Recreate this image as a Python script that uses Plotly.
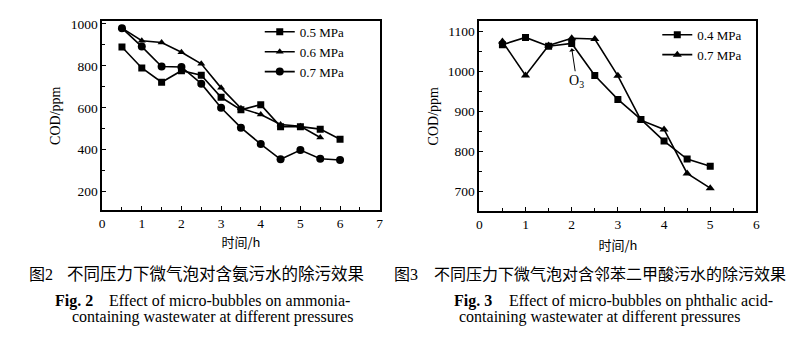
import plotly.graph_objects as go

# ---- Fig. 2: ammonia-containing wastewater ----
t_fig2 = [0.5, 1, 1.5, 2, 2.5, 3, 3.5, 4, 4.5, 5, 5.5, 6]
cod_05mpa = [890, 790, 722, 777, 755, 650, 590, 615, 510, 510, 498, 450]
t_fig2_06 = [0.5, 1, 1.5, 2, 2.5, 3, 3.5, 4, 4.5, 5, 5.5]
cod_06mpa = [980, 920, 912, 865, 810, 695, 598, 568, 520, 512, 458]
cod_07mpa = [980, 892, 797, 795, 715, 600, 505, 427, 354, 398, 357, 351]

# ---- Fig. 3: phthalic acid-containing wastewater ----
t_fig3 = [0.5, 1, 1.5, 2, 2.5, 3, 3.5, 4, 4.5, 5]
cod_04mpa = [1067, 1085, 1063, 1070, 990, 930, 880, 826, 781, 763]
cod_07mpa_b = [1075, 990, 1065, 1083, 1081, 989, 878, 855, 745, 708]

o3_time = 2
o3_head = 1058

W, H = 808, 347
serif = "Liberation Serif, Times New Roman, serif"
cjk = "Noto Sans CJK SC"


def px_x(v):
    return v / W


def px_y(v):
    return 1 - v / H


fig = go.Figure()

line = dict(color="black", width=1.6)


def add(x, y, name, symbol, size, xa, ya, legend):
    fig.add_trace(go.Scatter(
        x=x, y=y, name=name, mode="lines+markers",
        line=line, marker=dict(symbol=symbol, size=size, color="black"),
        xaxis=xa, yaxis=ya, legend=legend))


add(t_fig2, cod_05mpa, "0.5 MPa", "square", 7, "x", "y", "legend")
add(t_fig2_06, cod_06mpa, "0.6 MPa", "triangle-up", 7, "x", "y", "legend")
add(t_fig2, cod_07mpa, "0.7 MPa", "circle", 8, "x", "y", "legend")
add(t_fig3, cod_04mpa, "0.4 MPa", "square", 7, "x2", "y2", "legend2")
add(t_fig3, cod_07mpa_b, "0.7 MPa", "triangle-up", 8, "x2", "y2", "legend2")

tickfont = dict(family=serif, size=13.5, color="black")
axis_common = dict(
    showline=True, linecolor="black", linewidth=1.6, mirror=True,
    ticks="inside", ticklen=4, tickwidth=1.3, tickcolor="black",
    showgrid=False, zeroline=False, tickfont=tickfont,
)
minor_style = dict(ticks="inside", ticklen=3, tickcolor="black")
xtitle_font = dict(family=cjk, size=13, color="black")
ytitle_font = dict(family=serif, size=14, color="black")
legend_font = dict(family=serif, size=13, color="black")

fig.update_layout(
    width=W, height=H, margin=dict(l=0, r=0, t=0, b=0),
    paper_bgcolor="white", plot_bgcolor="white",
    xaxis=dict(domain=[px_x(100), px_x(380)], range=[0, 7], dtick=1,
               minor=dict(dtick=0.5, **minor_style),
               title=dict(text="时间/h", font=xtitle_font, standoff=8),
               anchor="y", **axis_common),
    yaxis=dict(domain=[px_y(208), px_y(16.7)], range=[112, 1012],
               tickvals=[200, 400, 600, 800, 1000],
               minor=dict(dtick=100, **minor_style),
               title=dict(text="COD/ppm", font=ytitle_font, standoff=7),
               anchor="x", **axis_common),
    xaxis2=dict(domain=[px_x(480.5), px_x(760)], range=[0, 6], dtick=1,
                minor=dict(dtick=0.5, **minor_style),
                title=dict(text="时间/h", font=xtitle_font, standoff=10),
                anchor="y2", **axis_common),
    yaxis2=dict(domain=[px_y(209), px_y(16.7)], range=[651, 1125],
                tickvals=[700, 800, 900, 1000, 1100],
                minor=dict(dtick=50, **minor_style),
                title=dict(text="COD/ppm", font=ytitle_font, standoff=6),
                anchor="x2", **axis_common),
    legend=dict(x=px_x(259), y=px_y(12), xanchor="left", yanchor="top",
                bgcolor="rgba(0,0,0,0)", font=legend_font,
                tracegroupgap=0, itemwidth=30),
    legend2=dict(x=px_x(660), y=px_y(15), xanchor="left", yanchor="top",
                 bgcolor="rgba(0,0,0,0)", font=legend_font,
                 tracegroupgap=0, itemwidth=30),
)

# Ozone dosing marker on Fig. 3
fig.add_annotation(x=o3_time, y=o3_head, xref="x2", yref="y2",
                   ax=5, ay=33, text="O<sub>3</sub>", showarrow=True,
                   arrowhead=1, arrowsize=1, arrowwidth=1, arrowcolor="black",
                   font=dict(family=serif, size=14, color="black"))


# Captions
def caption(x, y, text, font, size, bold=False):
    fig.add_annotation(x=px_x(x), y=px_y(y), xref="paper", yref="paper",
                       xanchor="left", yanchor="middle", showarrow=False,
                       text=f"<b>{text}</b>" if bold else text,
                       font=dict(family=font, size=size, color="black"))


def fig_no(n):
    return f"图<span style='font-family:Liberation Serif'>{n}</span>"


caption(24, 272, fig_no(2), cjk, 16)
caption(63, 272, "不同压力下微气泡对含氨污水的除污效果", cjk, 16.5)
caption(50, 300, "Fig. 2", serif, 16, bold=True)
caption(105, 300, "Effect of micro-bubbles on ammonia-", serif, 16)
caption(68, 317, "containing wastewater at different pressures", serif, 16)

caption(392, 272, fig_no(3), cjk, 16)
caption(433, 272, "不同压力下微气泡对含邻苯二甲酸污水的除污效果", cjk, 16)
caption(453, 300, "Fig. 3", serif, 16, bold=True)
caption(508, 300, "Effect of micro-bubbles on phthalic acid-", serif, 16)
caption(458, 317, "containing wastewater at different pressures", serif, 16)

fig.write_html("out.html")
